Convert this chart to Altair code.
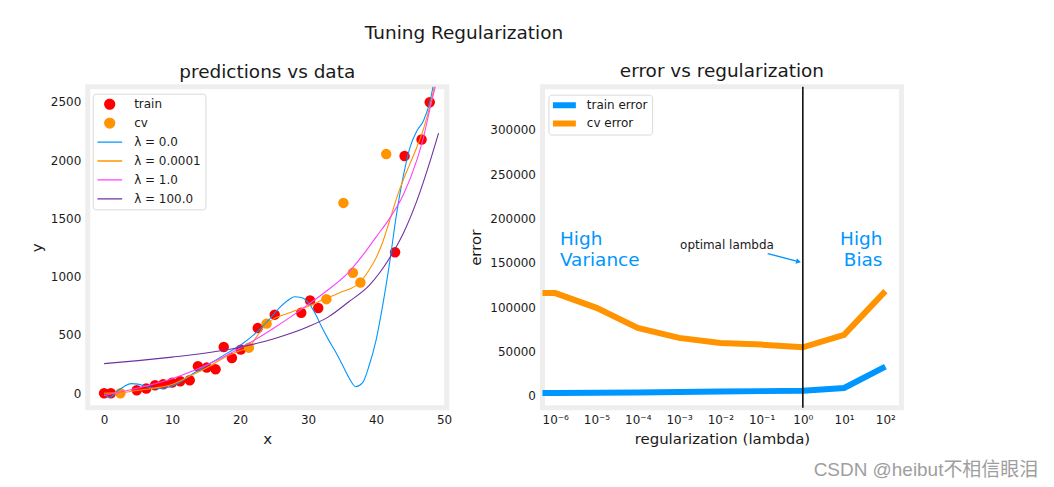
import altair as alt
import pandas as pd

# ---------------- left panel: predictions vs data ----------------
train_x = [0.0, 1.0, 4.8, 6.2, 7.5, 8.7, 10.0, 11.2, 12.6, 13.8, 15.1, 16.4, 17.6, 18.8,
           20.1, 22.6, 25.1, 29.0, 30.3, 31.5, 42.8, 44.2, 46.7, 47.9]
train_y = [0, 0, 26, 40, 68, 77, 91, 103, 111, 231, 220, 205, 396, 302,
           374, 559, 674, 691, 796, 731, 1210, 2035, 2177, 2497]
cv_x = [2.4, 21.3, 23.9, 32.7, 35.2, 36.6, 37.7, 41.5]
cv_y = [0, 391, 597, 807, 1633, 1033, 950, 2052]

# fitted curves
fit0_x = [0, 0.8, 2, 3, 4, 5, 6, 7, 8, 9, 10, 11, 12, 13, 14, 16, 18, 20, 22, 24, 26, 27, 28,
          29, 30, 31, 32, 33, 34, 35, 36, 37, 38, 39, 40, 41, 42, 43, 44, 45, 46, 47, 48, 48.6]
fit0_y = [-10, -35, 20, 60, 82, 78, 62, 46, 40, 45, 62, 88, 125, 165, 200, 270, 340, 410, 500,
          615, 745, 795, 828, 822, 780, 690, 570, 460, 360, 250, 135, 56, 88, 240, 454, 760,
          1120, 1530, 1860, 2110, 2250, 2340, 2520, 2700]
fit1_x = [0, 2.5, 5, 7.5, 10, 12.5, 15, 17.5, 20, 21.3, 22.5, 23.9, 25, 27.5, 30, 32.5, 35,
          37.5, 39, 40, 41, 42, 43, 44, 45, 46, 47, 48, 48.6]
fit1_y = [0, 5, 25, 45, 75, 145, 215, 300, 365, 395, 490, 597, 640, 695, 745, 810, 870,
          945, 1060, 1160, 1300, 1480, 1670, 1830, 1970, 2110, 2270, 2480, 2640]
fit2_x = [0, 5, 10, 15, 20, 25, 30, 33, 36, 38, 40, 42, 44, 46, 47, 48, 48.8]
fit2_y = [-20, 45, 125, 240, 385, 560, 760, 890, 1040, 1180, 1340, 1500, 1700, 2000, 2200,
          2460, 2650]
fit3_x = [0, 5, 10, 15, 20, 25, 30, 33, 36, 39, 42, 44, 46, 48, 49.2]
fit3_y = [254, 280, 310, 345, 395, 468, 570, 655, 785, 925, 1160, 1370, 1650, 2000, 2232]

series_names = ["train", "cv", "λ = 0.0", "λ = 0.0001", "λ = 1.0", "λ = 100.0"]
series_colors = ["#FF0000", "#FF9300", "#0096FF", "#FF9300", "#FF40FF", "#7030A0"]
LINE_GLYPH = "M-2.5,0L2.5,0"
series_shapes = ["circle", "circle", LINE_GLYPH, LINE_GLYPH, LINE_GLYPH, LINE_GLYPH]

# ---------------- right panel: error vs regularization ----------------
lambdas = [0.0, 1e-6, 1e-5, 1e-4, 1e-3, 1e-2, 1e-1, 1.0, 10.0, 100.0]
train_err = [3000, 3000, 3300, 3700, 4200, 4700, 5200, 5700, 8700, 32800]
cv_err = [115800, 115800, 99200, 76600, 65300, 59600, 57700, 54700, 68700, 118100]
err_names = ["train error", "cv error"]
err_colors = ["#0096FF", "#FF9300"]
optimal_lambda = [1.0]

region_text = ["High\nVariance", "High\nBias"]
region_lam = [1.3e-6, 85.0]
region_err = [169800, 169800]
note_text = ["optimal lambda"]
note_lam = [0.0145]
note_err = [166000]
arrow_lam = [0.141]
arrow_err = [160400]
arrow_lam2 = [0.787]
arrow_err2 = [151400]
watermark = ["CSDN @heibut不相信眼泪"]

FONT = "DejaVu Sans"
W, H = 360, 322
INK = "#1a1a1a"

# ---------- build tables ----------
pts_df = pd.DataFrame({
    "x": train_x + cv_x,
    "y": train_y + cv_y,
    "series": ["train"] * len(train_x) + ["cv"] * len(cv_x),
})
fit_df = pd.concat([
    pd.DataFrame({"x": fx, "y": fy, "series": name})
    for fx, fy, name in [(fit0_x, fit0_y, series_names[2]), (fit1_x, fit1_y, series_names[3]),
                         (fit2_x, fit2_y, series_names[4]), (fit3_x, fit3_y, series_names[5])]
], ignore_index=True)

err_df = pd.concat([
    pd.DataFrame({"lam": lambdas, "err": train_err, "series": err_names[0]}),
    pd.DataFrame({"lam": lambdas, "err": cv_err, "series": err_names[1]}),
], ignore_index=True)

legend_left = alt.Legend(
    title=None, orient="none", legendX=5, legendY=7,
    fillColor="white", strokeColor="#d9d9d9", cornerRadius=3, padding=4.5,
    labelFont=FONT, labelFontSize=12, labelColor=INK, clipHeight=12,
    symbolSize=100, symbolStrokeWidth=1.3, symbolOffset=6.5, labelOffset=18.5, rowPadding=7,
)

legend_right = alt.Legend(
    title=None, orient="none", legendX=6, legendY=8,
    fillColor="white", strokeColor="#d9d9d9", cornerRadius=3, padding=4.5,
    labelFont=FONT, labelFontSize=12, labelColor=INK, clipHeight=12,
    symbolType=LINE_GLYPH, symbolSize=100, symbolStrokeWidth=6, symbolOffset=2.5,
    labelOffset=15.5, rowPadding=6.4,
)

color_left = alt.Color("series:N", scale=alt.Scale(domain=series_names, range=series_colors),
                       legend=legend_left)
shape_left = alt.Shape("series:N", scale=alt.Scale(domain=series_names, range=series_shapes),
                       legend=legend_left)

xl = alt.X("x:Q", scale=alt.Scale(domain=[-2.4, 50.4], nice=False, zero=False),
           axis=alt.Axis(values=[0, 10, 20, 30, 40, 50], title="x"))
yl = alt.Y("y:Q", scale=alt.Scale(domain=[-125, 2630], nice=False, zero=False),
           axis=alt.Axis(values=[0, 500, 1000, 1500, 2000, 2500], format="d", title="y"))

pts = alt.Chart(pts_df).mark_point(filled=True, opacity=1, size=110).encode(
    x=xl, y=yl, color=color_left, shape=shape_left)
fits = alt.Chart(fit_df).mark_line(strokeWidth=1.1, clip=True, interpolate="monotone").encode(
    x=xl, y=yl, color=color_left, detail="series:N")

left = alt.layer(pts, fits).properties(
    width=W, height=H,
    title=alt.TitleParams("predictions vs data", fontSize=18.5, font=FONT, fontWeight="normal",
                          color=INK, offset=5.5),
)

# ---------- right ----------
sup = "'10' + (datum.value < 1 ? '⁻' : '') + ['⁰','¹','²','³','⁴','⁵','⁶'][abs(round(log(datum.value)/LN10))]"
xr_scale = alt.Scale(type="log", domain=[4.9e-7, 245], nice=False)
yr_scale = alt.Scale(domain=[-13600, 348700], nice=False, zero=False)
xr = alt.X("lam_plot:Q", scale=xr_scale,
           axis=alt.Axis(values=[1e-6, 1e-5, 1e-4, 1e-3, 1e-2, 1e-1, 1, 10, 100],
                         labelExpr=sup, title="regularization (lambda)"))
yr = alt.Y("err:Q", scale=yr_scale,
           axis=alt.Axis(values=[0, 50000, 100000, 150000, 200000, 250000, 300000],
                         format="d", title="error"))

err_lines = alt.Chart(err_df).transform_calculate(
    lam_plot="max(datum.lam, 1e-9)"
).mark_line(strokeWidth=6, clip=True).encode(
    x=xr, y=yr,
    color=alt.Color("series:N", scale=alt.Scale(domain=err_names, range=err_colors),
                    legend=legend_right),
)

vline = alt.Chart(pd.DataFrame({"lam_plot": optimal_lambda})).mark_rule(
    color="#111111", strokeWidth=1.6).encode(x=alt.X("lam_plot:Q", scale=xr_scale))

reg_df = pd.DataFrame({"lam_plot": region_lam, "err": region_err, "t": region_text})
txt_var = alt.Chart(reg_df.iloc[[0]]).mark_text(
    align="left", baseline="alphabetic", lineBreak="\n", lineHeight=21, fontSize=18.5,
    font=FONT, color="#0096FF").encode(x=alt.X("lam_plot:Q", scale=xr_scale),
                                        y=alt.Y("err:Q", scale=yr_scale), text="t:N")
txt_bias = alt.Chart(reg_df.iloc[[1]]).mark_text(
    align="right", baseline="alphabetic", lineBreak="\n", lineHeight=21, fontSize=18.5,
    font=FONT, color="#0096FF").encode(x=alt.X("lam_plot:Q", scale=xr_scale),
                                        y=alt.Y("err:Q", scale=yr_scale), text="t:N")
note_df = pd.DataFrame({"lam_plot": note_lam, "err": note_err, "t": note_text})
txt_note = alt.Chart(note_df).mark_text(
    align="center", baseline="alphabetic", fontSize=12, font=FONT, color=INK).encode(
    x=alt.X("lam_plot:Q", scale=xr_scale), y=alt.Y("err:Q", scale=yr_scale), text="t:N")

arr_df = pd.DataFrame({"a": arrow_lam, "b": arrow_err, "lam_plot": arrow_lam2, "err": arrow_err2})
arrow = alt.Chart(arr_df).mark_rule(color="#0096FF", strokeWidth=1.4).encode(
    x=alt.X("a:Q", scale=xr_scale), y=alt.Y("b:Q", scale=yr_scale),
    x2="lam_plot:Q", y2="err:Q")
head = alt.Chart(arr_df).mark_point(shape="triangle-right", filled=True, size=30, angle=14,
                                    color="#0096FF", opacity=1).encode(
    x=alt.X("lam_plot:Q", scale=xr_scale), y=alt.Y("err:Q", scale=yr_scale))

mark_wm = alt.Chart(pd.DataFrame({"t": watermark})).mark_text(
    align="left", baseline="alphabetic", fontSize=19,
    font="Liberation Sans, Noto Sans CJK SC", color="#9e9e9e").encode(
    x=alt.value(272), y=alt.value(390), text="t:N")

right = alt.layer(err_lines, vline, txt_var, txt_bias, txt_note, arrow, head, mark_wm).properties(
    width=W, height=H,
    title=alt.TitleParams("error vs regularization", fontSize=18.5, font=FONT, fontWeight="normal",
                          color=INK, offset=5.5),
)

chart = alt.hconcat(left, right, spacing=11).resolve_scale(
    color="independent", shape="independent"
).properties(
    title=alt.TitleParams("Tuning Regularization", fontSize=18.5, font=FONT, fontWeight="normal",
                          color=INK, anchor="middle", offset=17.5, dx=-70),
    padding={"left": 18, "top": 14.25, "right": 5, "bottom": 5},
    background="white",
).configure_view(
    stroke="#EEEEEE", strokeWidth=5
).configure_axis(
    grid=False, ticks=False, domain=False, labelFont=FONT, labelFontSize=12, labelColor=INK,
    titleFont=FONT, titleFontSize=15, titleFontWeight="normal", titleColor=INK,
    labelPadding=7, titlePadding=6,
)

chart.save("out.html", embed_options={"renderer": "svg", "actions": False})
